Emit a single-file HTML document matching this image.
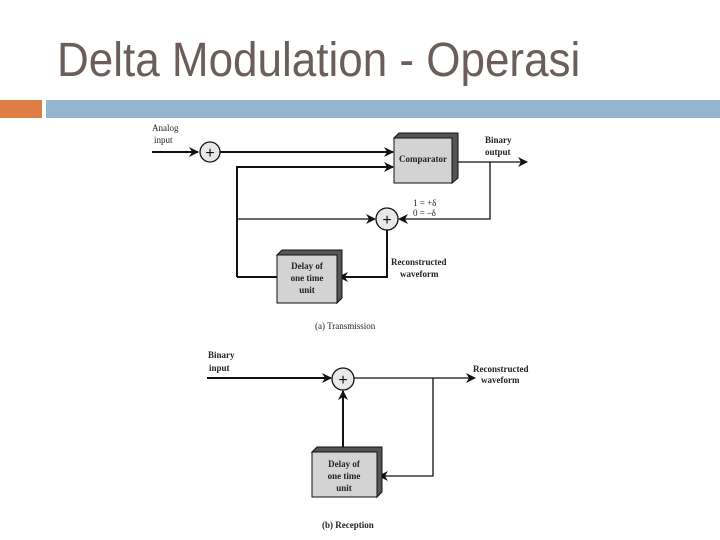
<!DOCTYPE html>
<html><head><meta charset="utf-8"><style>
html,body{margin:0;padding:0;background:#fff;}
svg{display:block}
.s{font-family:"Liberation Serif",serif;font-size:9px;font-weight:bold;fill:#222}
</style></head><body>
<svg width="720" height="540" viewBox="0 0 720 540" xmlns="http://www.w3.org/2000/svg">
<defs>
<marker id="a" markerWidth="10" markerHeight="10" refX="9" refY="5" orient="auto" markerUnits="userSpaceOnUse">
<path d="M0,0 L10,5 L0,10 L3,5 z" fill="#111"/></marker>
</defs>
<text x="57" y="76" transform="translate(0,-7.6) scale(1,1.1)" font-family="Liberation Sans, sans-serif" font-size="44" fill="#6a5d5a">Delta Modulation - Operasi</text>
<rect x="0" y="100" width="42" height="18" fill="#de7e45"/>
<rect x="46" y="100" width="674" height="18" fill="#95b4cf"/>

<g stroke="#111" fill="none" stroke-width="2">
<line x1="152" y1="152" x2="198" y2="152" marker-end="url(#a)"/>
<line x1="220" y1="152" x2="393" y2="152" marker-end="url(#a)"/>
<polyline points="237,277 237,167 393,167" marker-end="url(#a)"/>
<line x1="452" y1="162" x2="527" y2="162" stroke-width="1.3" marker-end="url(#a)"/>
<polyline points="490,162 490,219 399,219" stroke-width="1.3" marker-end="url(#a)"/>
<line x1="237" y1="219" x2="375" y2="219" stroke-width="1.3" marker-end="url(#a)"/>
<polyline points="387,230 387,277 339,277" marker-end="url(#a)"/>
<line x1="237" y1="277" x2="277" y2="277"/>
<line x1="207" y1="378" x2="331" y2="378" marker-end="url(#a)"/>
<line x1="354" y1="378" x2="475" y2="378" stroke-width="1.3" marker-end="url(#a)"/>
<polyline points="433,378 433,476 379,476" stroke-width="1.3" marker-end="url(#a)"/>
<line x1="343" y1="447" x2="343" y2="391" marker-end="url(#a)"/>
</g>
<g stroke="#111" stroke-width="1.3" fill="#e8e8e8">
<circle cx="210" cy="152" r="10"/>
<circle cx="387" cy="219" r="11"/>
<circle cx="343" cy="379" r="11"/>
</g>
<g font-family="Liberation Sans,sans-serif" font-size="16" text-anchor="middle" fill="#111">
<text x="210" y="158">+</text><text x="387" y="225">+</text><text x="343" y="385">+</text>
</g>
<g stroke="#111" stroke-width="1">
<polygon points="394,138 399,133 458,133 458,178 452,183 452,138" fill="#555"/>
<rect x="394" y="138" width="58" height="45" fill="#d3d3d3"/>
<polygon points="277,255 282,250 342,250 342,298 337,303 337,255" fill="#555"/>
<rect x="277" y="255" width="60" height="48" fill="#d3d3d3"/>
<polygon points="312,452 317,447 382,447 382,492 377,497 377,452" fill="#555"/>
<rect x="312" y="452" width="65" height="45" fill="#d3d3d3"/>
</g>
<g class="s" text-anchor="middle">
<text x="423" y="162">Comparator</text>
<text x="307" y="269">Delay of</text><text x="307" y="281">one time</text><text x="307" y="293">unit</text>
<text x="344" y="467">Delay of</text><text x="344" y="479">one time</text><text x="344" y="491">unit</text>
</g>
<g class="s" style="font-weight:normal">
<text x="152" y="131">Analog</text><text x="154" y="143">input</text>
<text x="485" y="143" style="font-weight:bold">Binary</text><text x="485" y="155" style="font-weight:bold">output</text>
<text x="413" y="206">1 = +δ</text><text x="413" y="216">0 = –δ</text>
<text x="391" y="265" style="font-weight:bold">Reconstructed</text><text x="400" y="277" style="font-weight:bold">waveform</text>
<text x="315" y="329">(a) Transmission</text>
<text x="208" y="358" style="font-weight:bold">Binary</text><text x="209" y="371" style="font-weight:bold">input</text>
<text x="473" y="372" style="font-weight:bold">Reconstructed</text><text x="481" y="383" style="font-weight:bold">waveform</text>
<text x="322" y="528" style="font-weight:bold">(b) Reception</text>
</g>
</svg>
</body></html>
